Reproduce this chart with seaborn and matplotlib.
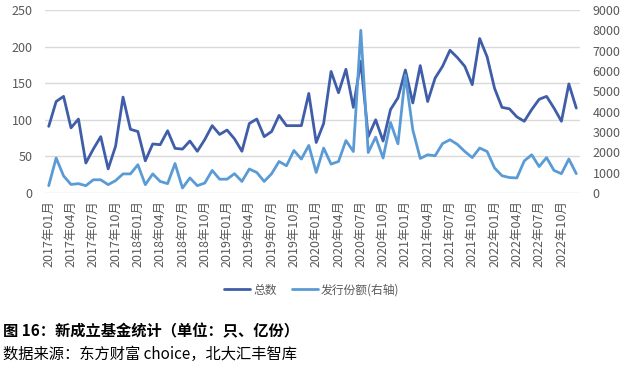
import numpy as np
import pandas as pd
import matplotlib
matplotlib.use("Agg")
import matplotlib.pyplot as plt
import seaborn as sns

#%% Data
years = [2017, 2018, 2019, 2020, 2021, 2022]
month_labels = [f"{y}年{m:02d}月" for y in years for m in range(1, 13)]

# number of newly set up funds (left axis)
total = [91, 125, 132, 89, 101, 41, 60, 77, 33, 64, 131, 87,
         84, 44, 67, 66, 85, 61, 60, 71, 57, 73, 92, 80,
         86, 74, 57, 95, 101, 77, 84, 106, 92, 92, 92, 136,
         69, 95, 166, 137, 169, 117, 180, 77, 100, 71, 114, 130,
         168, 123, 174, 125, 157, 173, 195, 185, 173, 148, 211, 186,
         143, 117, 115, 104, 98, 114, 128, 132, 116, 98, 149, 116]

# issued shares, 100m units (right axis)
issued = [360, 1720, 840, 420, 460, 360, 650, 650, 410, 610, 940, 940,
          1390, 410, 940, 570, 460, 1450, 245, 740, 360, 490, 1110, 680,
          680, 950, 570, 1180, 1010, 570, 950, 1550, 1340, 2090, 1670, 2340,
          1010, 2210, 1420, 1550, 2580, 2040, 8000, 1990, 2750, 1720, 3470, 2420,
          5800, 3100, 1700, 1880, 1830, 2430, 2620, 2390, 2040, 1740, 2210, 2040,
          1230, 850, 760, 740, 1580, 1880, 1300, 1740, 1110, 950, 1670, 950]

df = pd.DataFrame({"idx": np.arange(len(month_labels)), "month": month_labels,
                   "total": total, "issued": issued})

#%% Style
sns.set_style("white")
plt.rcParams["font.family"] = ["Noto Sans CJK SC", "DejaVu Sans"]
dark = "#3F5DA8"
light = "#5B9BD5"
grey_txt = "#595959"

fig = plt.figure(figsize=(6.24, 3.69), dpi=100)
ax = fig.add_axes([45 / 624, 1 - 193 / 369, 535 / 624, 183 / 369])
ax2 = ax.twinx()

sns.lineplot(data=df, x="idx", y="total", ax=ax, color=dark, linewidth=2.0,
             label="总数", legend=False)
sns.lineplot(data=df, x="idx", y="issued", ax=ax2, color=light, linewidth=2.0,
             label="发行份额(右轴)", legend=False)

ax.set_xlim(-0.5, len(month_labels) - 0.5)
ax.set_ylim(0, 250)
ax.set_yticks(range(0, 251, 50))
ax2.set_ylim(0, 9000)
ax2.set_yticks(range(0, 9001, 1000))

ax.set_xticks(df["idx"][::3])
ax.set_xticklabels(df["month"][::3], rotation=90, fontsize=9, color=grey_txt)
ax.tick_params(axis="x", length=0, pad=5)
ax.tick_params(axis="y", length=0, pad=9, labelsize=9, labelcolor=grey_txt)
ax2.tick_params(axis="y", length=0, pad=9, labelsize=9, labelcolor=grey_txt)

ax.yaxis.grid(True, color="#D9D9D9", linewidth=1)
ax.set_axisbelow(True)
ax.set_xlabel("")
ax.set_ylabel("")
ax2.set_ylabel("")
for a in (ax, ax2):
    for s in a.spines.values():
        s.set_visible(False)

# Legend below the plot
h1, l1 = ax.get_legend_handles_labels()
h2, l2 = ax2.get_legend_handles_labels()
fig.legend(h1 + h2, l1 + l2, loc="center", bbox_to_anchor=(0.5, 1 - 290 / 369),
           ncol=2, frameon=False, fontsize=8.5, handlelength=2.2,
           columnspacing=1.2, handletextpad=0.3, labelcolor=grey_txt)

# Caption and source
fig.text(3 / 624, 1 - 331 / 369, "图 16：新成立基金统计（单位：只、亿份）",
         fontsize=11, fontweight="bold", va="center", ha="left", color="black")
fig.text(3 / 624, 1 - 354 / 369, "数据来源：东方财富 choice，北大汇丰智库",
         fontsize=11, va="center", ha="left", color="black")

plt.savefig("out.png", dpi=100)
plt.close()
